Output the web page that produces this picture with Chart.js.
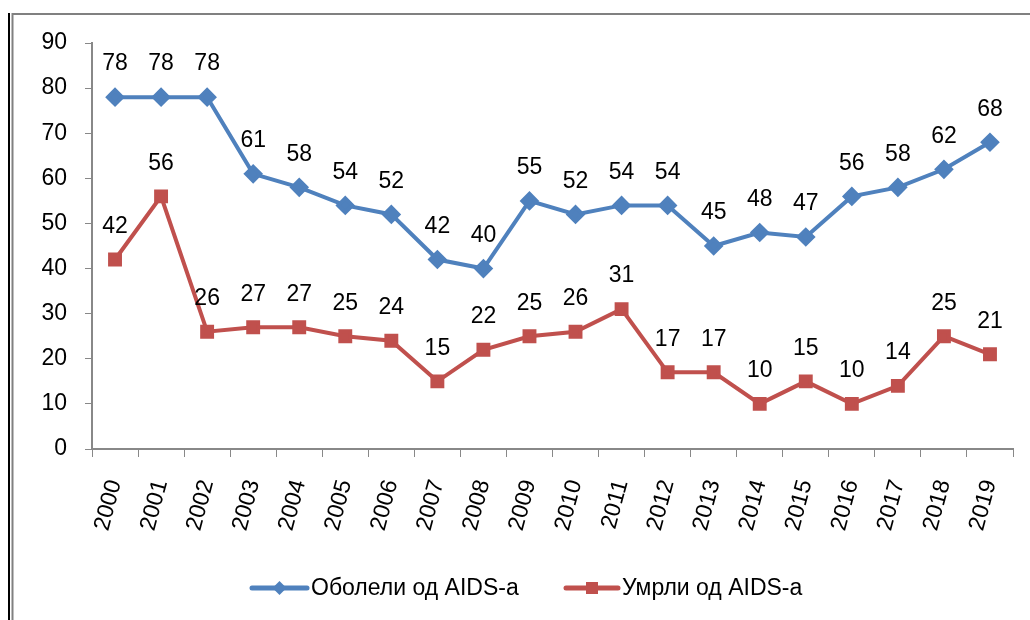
<!DOCTYPE html>
<html>
<head>
<meta charset="utf-8">
<script src="https://cdn.jsdelivr.net/npm/chart.js@4"></script>
<style>
  html, body { margin: 0; padding: 0; background: #fff; }
  #wrap { width: 1030px; height: 620px; position: relative; }
</style>
</head>
<body>
<div id="wrap"><canvas id="aidsChart" width="1030" height="620"></canvas></div>
<script>
const years = ['2000','2001','2002','2003','2004','2005','2006','2007','2008','2009',
               '2010','2011','2012','2013','2014','2015','2016','2017','2018','2019'];
const oboleli = [78,78,78,61,58,54,52,42,40,55,52,54,54,45,48,47,56,58,62,68];
const umrli = [42,56,26,27,27,25,24,15,22,25,26,31,17,17,10,15,10,14,25,21];
const seriesNames = ['Оболели од AIDS-а', 'Умрли од AIDS-а'];
const yTicks = [0,10,20,30,40,50,60,70,80,90];

const FONT = 'Liberation Sans';
const BLUE = '#4F81BD';
const RED = '#C0504D';

// labels above every point
const pointLabels = {
    id: 'pointLabels',
    afterDatasetsDraw(chart) {
        const ctx = chart.ctx;
        ctx.save();
        ctx.font = '23px "' + FONT + '"';
        ctx.fillStyle = '#000';
        ctx.textAlign = 'center';
        ctx.textBaseline = 'middle';
        chart.data.datasets.forEach((ds, i) => {
            chart.getDatasetMeta(i).data.forEach((pt, j) => {
                ctx.fillText(ds.data[j], pt.x, pt.y - 33);
            });
        });
        ctx.restore();
    }
};

// frame + legend drawn like the excel one
const frameAndLegend = {
    id: 'frameAndLegend',
    afterDraw(chart) {
        const ctx = chart.ctx;
        ctx.save();
        ctx.strokeStyle = '#000';
        ctx.lineWidth = 2;
        ctx.beginPath();
        ctx.moveTo(9, 13); ctx.lineTo(9, 620);
        ctx.stroke();
        ctx.strokeStyle = '#808080';
        ctx.beginPath();
        ctx.moveTo(12.5, 620); ctx.lineTo(12.5, 14); ctx.lineTo(1030, 14);
        ctx.stroke();

        // legend
        const items = [
            { x0: 252, x1: 307, ds: chart.data.datasets[0] },
            { x0: 566, x1: 618, ds: chart.data.datasets[1] }
        ];
        const y = 588;
        ctx.font = '23px "' + FONT + '"';
        ctx.textBaseline = 'middle';
        ctx.textAlign = 'left';
        items.forEach(it => {
            const c = it.ds.borderColor;
            ctx.strokeStyle = c;
            ctx.lineWidth = 5;
            ctx.lineCap = 'round';
            ctx.beginPath();
            ctx.moveTo(it.x0, y); ctx.lineTo(it.x1, y);
            ctx.stroke();
            ctx.fillStyle = c;
            const cx = (it.x0 + it.x1) / 2;
            if (it.ds.pointStyle === 'rectRot') {
                ctx.beginPath();
                ctx.moveTo(cx, y - 7); ctx.lineTo(cx + 7, y); ctx.lineTo(cx, y + 7); ctx.lineTo(cx - 7, y);
                ctx.closePath(); ctx.fill();
            } else {
                ctx.fillRect(cx - 6, y - 6, 12, 12);
            }
            ctx.fillStyle = '#000';
            ctx.fillText(it.ds.label, it.x1 + 4, y + 1);
        });
        ctx.restore();
    }
};

const ctx = document.getElementById('aidsChart').getContext('2d');
new Chart(ctx, {
    type: 'line',
    data: {
        labels: years,
        datasets: [{
            label: seriesNames[0],
            data: oboleli,
            borderColor: BLUE,
            backgroundColor: BLUE,
            borderWidth: 4,
            pointStyle: 'rectRot',
            pointRadius: 7,
            pointHoverRadius: 7,
            tension: 0
        }, {
            label: seriesNames[1],
            data: umrli,
            borderColor: RED,
            backgroundColor: RED,
            borderWidth: 4,
            pointStyle: 'rect',
            pointRadius: 7,
            pointHoverRadius: 7,
            tension: 0
        }]
    },
    options: {
        responsive: false,
        animation: false,
        layout: { padding: { top: 43, right: 17, bottom: 0, left: 0 } },
        plugins: {
            legend: { display: false },
            tooltip: { enabled: false }
        },
        scales: {
            x: {
                offset: true,
                grid: { display: true, drawOnChartArea: false, offset: true, color: '#888', tickLength: 8 },
                border: { color: '#888', width: 2 },
                ticks: {
                    color: '#000',
                    font: { family: FONT, size: 23 },
                    minRotation: 75, maxRotation: 75,
                    padding: 20
                },
                afterFit(scale) {
                    scale.height = 171;
                    scale.paddingLeft = 0;
                    scale.paddingRight = 0;
                }
            },
            y: {
                min: 0, max: 90,
                afterBuildTicks(scale) { scale.ticks = yTicks.map(v => ({ value: v })); },
                grid: { display: true, drawOnChartArea: false, color: '#888', tickLength: 7 },
                border: { color: '#888', width: 2 },
                ticks: {
                    color: '#000',
                    font: { family: FONT, size: 23 },
                    padding: 18
                },
                afterFit(scale) { scale.width = 92; }
            }
        }
    },
    plugins: [pointLabels, frameAndLegend]
});
</script>
</body>
</html>
